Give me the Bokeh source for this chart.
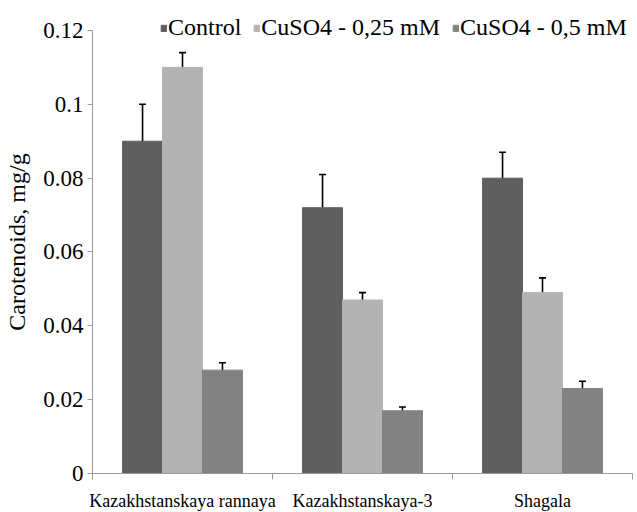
from bokeh.plotting import figure
from bokeh.models import ColumnDataSource, FixedTicker, Whisker, Legend, LegendItem, TeeHead
from bokeh.embed import file_html
from bokeh.resources import INLINE

varieties = ["Kazakhstanskaya rannaya", "Kazakhstanskaya-3", "Shagala"]
series = ["Control", "CuSO4 - 0,25 mM", "CuSO4 - 0,5 mM"]
control = [0.090, 0.072, 0.080]
control_err = [0.010, 0.009, 0.007]
cu025 = [0.110, 0.047, 0.049]
cu025_err = [0.004, 0.002, 0.004]
cu05 = [0.028, 0.017, 0.023]
cu05_err = [0.002, 0.001, 0.002]
y_ticks = [0, 0.02, 0.04, 0.06, 0.08, 0.10, 0.12]
y_tick_labels = ["0", "0.02", "0.04", "0.06", "0.08", "0.1", "0.12"]
colors = ["#5f5f5f", "#b3b3b3", "#828282"]

FONT = "'Liberation Serif'"

p = figure(width=637, height=512, x_range=(0, 3), y_range=(0, 0.12704),
           output_backend="svg", toolbar_location=None,
           frame_width=540, frame_height=469,
           min_border_left=92, min_border_right=5, min_border_top=4, min_border_bottom=39)
p.outline_line_color = None
p.xgrid.grid_line_color = None
p.ygrid.grid_line_color = None

bar_w = 0.222
offsets = [-bar_w, 0, bar_w]
renderers = []
for vals, errs, off, col in zip([control, cu025, cu05], [control_err, cu025_err, cu05_err], offsets, colors):
    xs = [i + 0.5 + off for i in range(len(varieties))]
    src = ColumnDataSource(dict(x=xs, top=vals,
                                lo=[v - e for v, e in zip(vals, errs)],
                                hi=[v + e for v, e in zip(vals, errs)]))
    r = p.vbar(x="x", top="top", width=bar_w, bottom=0, source=src,
               fill_color=col, line_color=col)
    renderers.append(r)
    w = Whisker(base="x", lower="lo", upper="hi", source=src, line_color="black", line_width=1.6,
                lower_head=TeeHead(size=7, line_color="black", line_width=1.6),
                upper_head=TeeHead(size=7, line_color="black", line_width=1.6))
    p.add_layout(w)

# y axis
p.yaxis.ticker = FixedTicker(ticks=y_ticks)
p.yaxis.bounds = (0, 0.12)
p.yaxis.major_label_overrides = {t: l for t, l in zip(y_ticks, y_tick_labels)}
p.yaxis.minor_tick_line_color = None
p.yaxis.major_tick_in = 0
p.yaxis.major_tick_out = 5
p.yaxis.axis_line_color = "#9a9a9a"
p.yaxis.major_tick_line_color = "#9a9a9a"
p.yaxis.major_label_text_font = FONT
p.yaxis.major_label_text_font_size = "23px"
p.yaxis.major_label_text_color = "black"
p.yaxis.major_label_standoff = 4
p.yaxis.axis_label = "Carotenoids,  mg/g"
p.yaxis.axis_label_text_font = FONT
p.yaxis.axis_label_text_font_size = "24px"
p.yaxis.axis_label_text_font_style = "normal"
p.yaxis.axis_label_text_color = "black"
p.yaxis.axis_label_standoff = 10

# x axis
p.xaxis.ticker = FixedTicker(ticks=[0.5, 1.5, 2.5], minor_ticks=[0, 1, 2, 3])
p.xaxis.bounds = (0, 3)
p.xaxis.major_label_overrides = {i + 0.5: v for i, v in enumerate(varieties)}
p.xaxis.major_tick_in = 0
p.xaxis.major_tick_out = 0
p.xaxis.minor_tick_in = 0
p.xaxis.minor_tick_out = 6
p.xaxis.axis_line_color = "#9a9a9a"
p.xaxis.minor_tick_line_color = "#9a9a9a"
p.xaxis.major_label_text_font = FONT
p.xaxis.major_label_text_font_size = "18px"
p.xaxis.major_label_text_color = "black"
p.xaxis.major_label_standoff = 11

legend = Legend(items=[LegendItem(label=s, renderers=[r]) for s, r in zip(series, renderers)],
                orientation="horizontal", location=(68, 432),
                glyph_width=7, glyph_height=8, label_standoff=1, spacing=12,
                padding=0, margin=0, border_line_color=None, background_fill_alpha=0,
                label_text_font=FONT, label_text_font_size="24px", label_text_color="black")
p.add_layout(legend)

open("out.html", "w").write(file_html(p, INLINE))
